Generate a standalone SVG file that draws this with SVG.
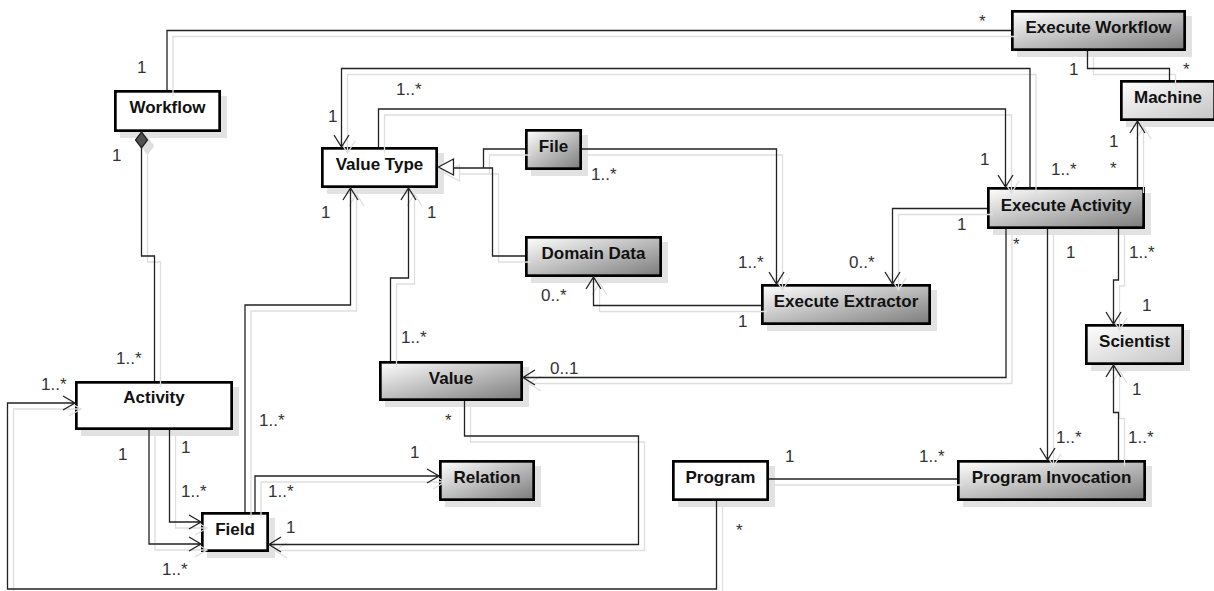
<svg xmlns="http://www.w3.org/2000/svg" xmlns:xlink="http://www.w3.org/1999/xlink" width="1214" height="591" viewBox="0 0 1214 591">
<style>
.bg{fill:#fff}
.sh{fill:#e2e2e2;stroke:none}
.box{stroke:#000;stroke-width:2.7}
.w{fill:#fff}
.g{fill:url(#gDark)}
.lg{fill:url(#gLight)}
.nt{font-family:"Liberation Sans",Arial,sans-serif;font-weight:bold;font-size:17px;fill:#111;text-anchor:middle}
.lb{font-family:"Liberation Sans",Arial,sans-serif;font-size:17px;fill:#333}
.l{fill:none}
.tri{fill:#fff}
.shadow{stroke:#dedede;fill:#dedede}
.ink{stroke:#222;fill:#505050}
</style>
<defs>
<linearGradient id="gDark" x1="0" y1="0" x2="1" y2="1">
<stop offset="0" stop-color="#ffffff"/>
<stop offset="1" stop-color="#7c7c7c"/>
</linearGradient>
<linearGradient id="gLight" x1="0" y1="0" x2="1" y2="1">
<stop offset="0" stop-color="#ffffff"/>
<stop offset="1" stop-color="#c4c4c4"/>
</linearGradient>
</defs>
<rect class="bg" x="0" y="0" width="1214" height="591"/>

<g id="node-workflow">
<rect class="sh" x="120" y="96" width="107" height="42"/>
<rect class="box w" x="115.35" y="91.35" width="104.3" height="39.3"/>
<text class="nt" x="167.5" y="113">Workflow</text>
</g>
<g id="node-value-type">
<rect class="sh" x="327" y="153" width="117" height="41"/>
<rect class="box w" x="322.35" y="148.35" width="114.3" height="38.3"/>
<text class="nt" x="379.5" y="169.5">Value Type</text>
</g>
<g id="node-file">
<rect class="sh" x="531" y="135" width="57" height="41"/>
<rect class="box g" x="526.35" y="130.35" width="54.3" height="38.3"/>
<text class="nt" x="553.5" y="151.5">File</text>
</g>
<g id="node-domain-data">
<rect class="sh" x="531" y="242" width="137" height="41"/>
<rect class="box g" x="526.35" y="237.35" width="134.3" height="38.3"/>
<text class="nt" x="593.5" y="258.5">Domain Data</text>
</g>
<g id="node-execute-workflow">
<rect class="sh" x="1017" y="16" width="175" height="41"/>
<rect class="box g" x="1012.35" y="11.35" width="172.3" height="38.3"/>
<text class="nt" x="1098.5" y="32.5">Execute Workflow</text>
</g>
<g id="node-machine">
<rect class="sh" x="1126" y="86" width="96" height="41"/>
<rect class="box lg" x="1121.35" y="81.35" width="93.3" height="38.3"/>
<text class="nt" x="1168" y="102.5">Machine</text>
</g>
<g id="node-execute-activity">
<rect class="sh" x="993" y="193" width="158" height="42"/>
<rect class="box g" x="988.35" y="188.35" width="155.3" height="39.3"/>
<text class="nt" x="1066" y="210.5">Execute Activity</text>
</g>
<g id="node-execute-extractor">
<rect class="sh" x="767" y="290" width="170" height="41"/>
<rect class="box g" x="762.35" y="285.35" width="167.3" height="38.3"/>
<text class="nt" x="846" y="306.5">Execute Extractor</text>
</g>
<g id="node-scientist">
<rect class="sh" x="1091" y="330" width="99" height="41"/>
<rect class="box lg" x="1086.35" y="325.35" width="96.3" height="38.3"/>
<text class="nt" x="1134.5" y="346.5">Scientist</text>
</g>
<g id="node-value">
<rect class="sh" x="385" y="367" width="144" height="40"/>
<rect class="box g" x="380.35" y="362.35" width="141.3" height="37.3"/>
<text class="nt" x="451" y="383.5">Value</text>
</g>
<g id="node-activity">
<rect class="sh" x="81" y="387" width="158" height="49"/>
<rect class="box w" x="76.35" y="382.35" width="155.3" height="46.3"/>
<text class="nt" x="154" y="403">Activity</text>
</g>
<g id="node-field">
<rect class="sh" x="207" y="518" width="68" height="40"/>
<rect class="box w" x="202.35" y="513.35" width="65.3" height="37.3"/>
<text class="nt" x="235" y="534.5">Field</text>
</g>
<g id="node-relation">
<rect class="sh" x="445" y="466" width="96" height="41"/>
<rect class="box g" x="440.35" y="461.35" width="93.3" height="38.3"/>
<text class="nt" x="487" y="482.5">Relation</text>
</g>
<g id="node-program">
<rect class="sh" x="678" y="466" width="97" height="41"/>
<rect class="box w" x="673.35" y="461.35" width="94.3" height="38.3"/>
<text class="nt" x="720.5" y="482.5">Program</text>
</g>
<g id="node-program-invocation">
<rect class="sh" x="963" y="466" width="189" height="41"/>
<rect class="box g" x="958.35" y="461.35" width="186.3" height="38.3"/>
<text class="nt" x="1051.5" y="482.5">Program Invocation</text>
</g>

<g id="connectors" stroke-width="1.3">
<use xlink:href="#edges" href="#edges" class="shadow" transform="translate(6,6)"/>
<g class="ink">
<g id="edges">
<path class="l" d="M167,90 V30.5 H1011"/>
<path d="M141.5,132 L147.5,140 L141.5,148 L135.5,140 Z"/>
<path class="l" d="M141.5,148 V256 H154.5 V381"/>
<path class="l" d="M716.5,501 V589 H7.5 V403 H75 M63,396 L75,403 L63,410"/>
<path class="l" d="M149,430 V544 H201 M189,537 L201,544 L189,551"/>
<path class="l" d="M169.5,430 V522 H201 M189,515 L201,522 L189,529"/>
<path class="l" d="M245,512 V305 H350.5 V188 M343,200 L350.5,188 L358,200"/>
<path class="l" d="M390.5,361 V278 H408.5 V188 M401,200 L408.5,188 L416,200"/>
<path class="l" d="M453.5,168 H492.5 V256 H525 M483.5,168 V149 H525"/>
<path class="tri" d="M438.5,167 L453.5,159 L453.5,175 Z"/>
<path class="l" d="M582,149 H776.5 V284 M769,272 L776.5,284 L784,272"/>
<path class="l" d="M761,305.5 H593.5 V277 M586,289 L593.5,277 L601,289"/>
<path class="l" d="M987,208.5 H892.5 V284 M885,272 L892.5,284 L900,272"/>
<path class="l" d="M1006,229 V377.5 H523 M535,370 L523,377.5 L535,385"/>
<path class="l" d="M1030,187 V68.5 H341.5 V147 M334,135 L341.5,147 L349,135"/>
<path class="l" d="M378.5,147 V109 H1005.5 V187 M998,175 L1005.5,187 L1013,175"/>
<path class="l" d="M1087.5,51 V68.5 H1169.5 V80"/>
<path class="l" d="M1137.5,187 V121 M1130,133 L1137.5,121 L1145,133"/>
<path class="l" d="M1118.5,229 V280 H1113.5 V324 M1106,312 L1113.5,324 L1121,312"/>
<path class="l" d="M1118.5,460 V412.5 H1113.5 V365 M1106,377 L1113.5,365 L1121,377"/>
<path class="l" d="M1047.5,229 V460 M1040,448 L1047.5,460 L1055,448"/>
<path class="l" d="M769,479 H957"/>
<path class="l" d="M255,512 V476 H439 M427,469 L439,476 L427,483"/>
<path class="l" d="M464.5,401 V436 H638.5 V544.5 H269 M281,537 L269,544.5 L281,552"/>
</g>
</g>
<g id="labels">
<text class="lb" x="137" y="73">1</text>
<text class="lb" x="979" y="27">*</text>
<text class="lb" x="112" y="161">1</text>
<text class="lb" x="116" y="364">1..*</text>
<text class="lb" x="41" y="390">1..*</text>
<text class="lb" x="736" y="536">*</text>
<text class="lb" x="118" y="460">1</text>
<text class="lb" x="162" y="575">1..*</text>
<text class="lb" x="181" y="453">1</text>
<text class="lb" x="181" y="497">1..*</text>
<text class="lb" x="321" y="218">1</text>
<text class="lb" x="259" y="426">1..*</text>
<text class="lb" x="427" y="218">1</text>
<text class="lb" x="401" y="343">1..*</text>
<text class="lb" x="591" y="180">1..*</text>
<text class="lb" x="738" y="268">1..*</text>
<text class="lb" x="541" y="301">0..*</text>
<text class="lb" x="738" y="327">1</text>
<text class="lb" x="957" y="230">1</text>
<text class="lb" x="849" y="268">0..*</text>
<text class="lb" x="1013" y="250">*</text>
<text class="lb" x="550" y="374">0..1</text>
<text class="lb" x="328" y="122">1</text>
<text class="lb" x="1051" y="175">1..*</text>
<text class="lb" x="396" y="95">1..*</text>
<text class="lb" x="980" y="165">1</text>
<text class="lb" x="1069" y="75">1</text>
<text class="lb" x="1183" y="75">*</text>
<text class="lb" x="1109" y="147">1</text>
<text class="lb" x="1110" y="174">*</text>
<text class="lb" x="1129" y="258">1..*</text>
<text class="lb" x="1142" y="311">1</text>
<text class="lb" x="1132" y="395">1</text>
<text class="lb" x="1128" y="443">1..*</text>
<text class="lb" x="1066" y="258">1</text>
<text class="lb" x="1056" y="443">1..*</text>
<text class="lb" x="785" y="462">1</text>
<text class="lb" x="919" y="462">1..*</text>
<text class="lb" x="268" y="497">1..*</text>
<text class="lb" x="410" y="458">1</text>
<text class="lb" x="445" y="426">*</text>
<text class="lb" x="286" y="533">1</text>
</g>
</g>
</svg>
